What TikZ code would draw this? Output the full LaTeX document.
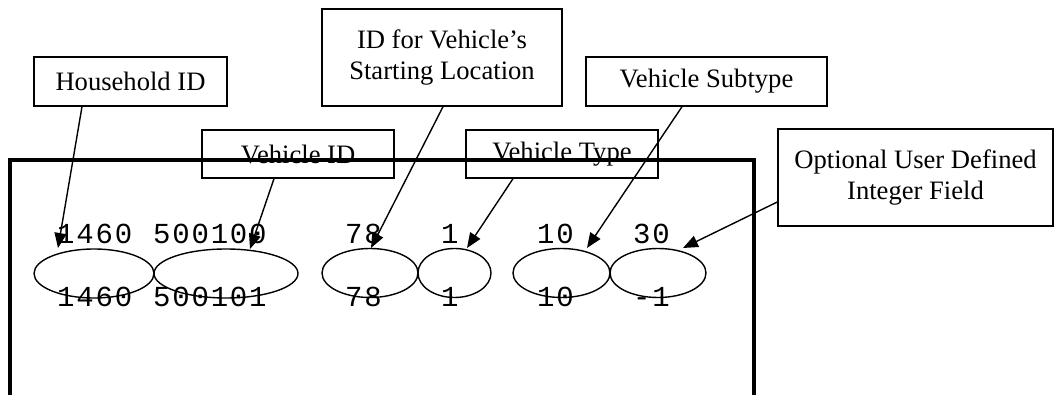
\documentclass[tikz,border=0pt]{standalone}
\usepackage{fontspec}
\setmainfont{Liberation Serif}
\newfontfamily\numfont{Liberation Mono}[LetterSpace=6.2]
\usetikzlibrary{arrows.meta,shapes.geometric}
\begin{document}
\begin{tikzpicture}[x=1pt,y=-1pt,
  lbl/.style={draw, line width=1.4pt, inner sep=0pt, align=center,
    font=\fontsize{26.6pt}{30.6pt}\selectfont},
  oval/.style={ellipse, draw, line width=1.4pt, inner sep=0pt},
  num/.style={anchor=base west, inner sep=0pt,
    font=\fontsize{29pt}{34pt}\numfont},
  arr/.style={line width=1.4pt, -{Triangle[length=15pt,width=12pt]}},
  frame/.style={line width=4pt}]
\useasboundingbox (0,0) rectangle (1055,395);

% field labels
\node[lbl, minimum width=193pt, minimum height=49pt] (hh)  at (130.5,81.5) {Household ID};
\node[lbl, minimum width=192pt, minimum height=48pt] (vid) at (298,154) {Vehicle ID};
\node[lbl, minimum width=240pt, minimum height=97pt] (loc) at (442,57.5) {ID for Vehicle’s\\Starting Location};
\node[lbl, minimum width=192pt, minimum height=48pt] (vty) at (562,154) {Vehicle Type};
\node[lbl, minimum width=241pt, minimum height=49pt] (vst) at (706.5,81.5) {Vehicle Subtype};
\node[lbl, minimum width=275pt, minimum height=97pt] (opt) at (915.5,177.5) {Optional User Defined\\Integer Field};

% record frame, open at the bottom
\coordinate (fa) at (10,397);
\coordinate (fb) at (10,160);
\coordinate (fc) at (754,160);
\coordinate (fd) at (754,397);
\draw[frame] (fa) -- (fb) -- (fc) -- (fd);

% field ovals
\node[oval, minimum width=120pt, minimum height=49pt] (e1) at (94,273.5) {};
\node[oval, minimum width=144pt, minimum height=49pt] (e2) at (226,273.5) {};
\node[oval, minimum width=96pt,  minimum height=49pt] (e3) at (370,273) {};
\node[oval, minimum width=73pt,  minimum height=49pt] (e4) at (454.5,273) {};
\node[oval, minimum width=97pt,  minimum height=49pt] (e5) at (561.5,273) {};
\node[oval, minimum width=96pt,  minimum height=49pt] (e6) at (658,273) {};

% first record
\node[num] (a1) at (57,244) {1460};
\node[num] (a2) at (153,244) {500100};
\node[num] (a3) at (345,244) {78};
\node[num] (a4) at (441,244) {1};
\node[num] (a5) at (537,244) {10};
\node[num] (a6) at (633,244) {30};

% second record
\node[num] (b1) at (57,307) {1460};
\node[num] (b2) at (153,307) {500101};
\node[num] (b3) at (345,307) {78};
\node[num] (b4) at (441,307) {1};
\node[num] (b5) at (537,307) {10};
\node[num] (b6) at (633,307) {-1};

% arrow tips
\coordinate (t1) at (58,248);
\coordinate (t2) at (250,249);
\coordinate (t3) at (371,248);
\coordinate (t4) at (467,248);
\coordinate (t5) at (587,248);
\coordinate (t6) at (683,248);

\draw[arr] ([xshift=-48.5pt]hh.south) -- (t1);
\draw[arr] ([xshift=-24pt]vid.south) -- (t2);
\draw[arr] ([xshift=1pt]loc.south) -- (t3);
\draw[arr] ([xshift=-49pt]vty.south) -- (t4);
\draw[arr] ([xshift=-24.5pt]vst.south) -- (t5);
\draw[arr] ([yshift=-24.5pt]opt.west) -- (t6);
\end{tikzpicture}
\end{document}
